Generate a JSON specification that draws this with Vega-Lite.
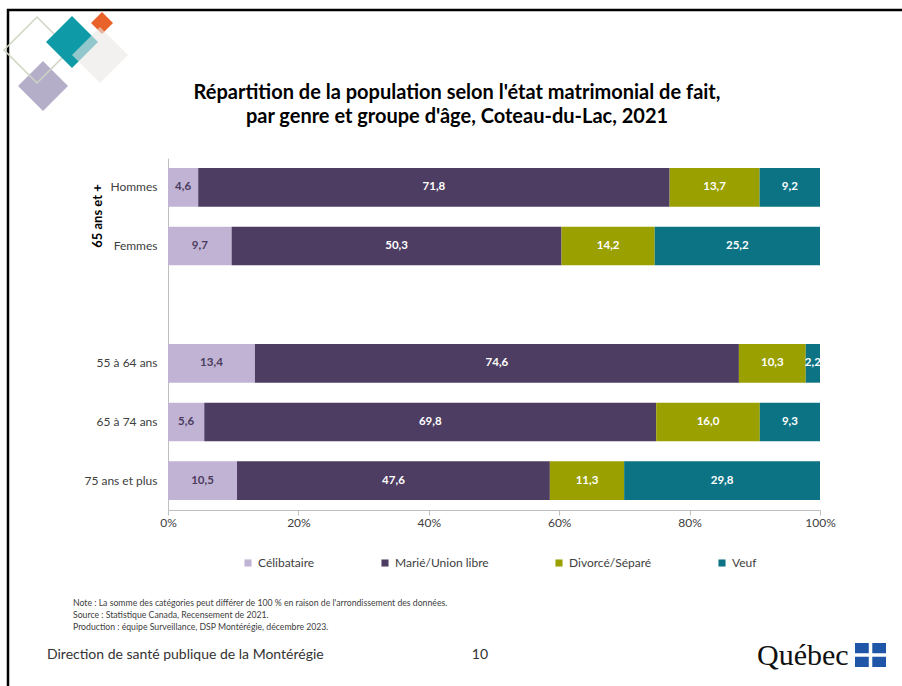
{
  "$schema": "https://vega.github.io/schema/vega-lite/v6.json",
  "width": 652,
  "height": 352,
  "autosize": {"type": "none"},
  "padding": {"left": 168, "top": 158, "right": 82, "bottom": 176},
  "background": "white",
  "config": {
    "view": {"stroke": null},
    "font": "Lato",
    "locale": {"number": {"decimal": ",", "thousands": "\u00a0", "grouping": [3], "currency": ["", "\u00a0$"], "percent": "%"}}
  },
  "resolve": {"scale": {"x": "independent", "y": "independent"}},
  "layer": [
    {
      "data": {
        "values": [
          {"g": "Hommes", "c": "Célibataire", "v": 4.6},
          {"g": "Hommes", "c": "Marié/Union libre", "v": 71.8},
          {"g": "Hommes", "c": "Divorcé/Séparé", "v": 13.7},
          {"g": "Hommes", "c": "Veuf", "v": 9.2},
          {"g": "Femmes", "c": "Célibataire", "v": 9.7},
          {"g": "Femmes", "c": "Marié/Union libre", "v": 50.3},
          {"g": "Femmes", "c": "Divorcé/Séparé", "v": 14.2},
          {"g": "Femmes", "c": "Veuf", "v": 25.2},
          {"g": "55 à 64 ans", "c": "Célibataire", "v": 13.4},
          {"g": "55 à 64 ans", "c": "Marié/Union libre", "v": 74.6},
          {"g": "55 à 64 ans", "c": "Divorcé/Séparé", "v": 10.3},
          {"g": "55 à 64 ans", "c": "Veuf", "v": 2.2},
          {"g": "65 à 74 ans", "c": "Célibataire", "v": 5.6},
          {"g": "65 à 74 ans", "c": "Marié/Union libre", "v": 69.8},
          {"g": "65 à 74 ans", "c": "Divorcé/Séparé", "v": 16.0},
          {"g": "65 à 74 ans", "c": "Veuf", "v": 9.3},
          {"g": "75 ans et plus", "c": "Célibataire", "v": 10.5},
          {"g": "75 ans et plus", "c": "Marié/Union libre", "v": 47.6},
          {"g": "75 ans et plus", "c": "Divorcé/Séparé", "v": 11.3},
          {"g": "75 ans et plus", "c": "Veuf", "v": 29.8}
        ]
      },
      "resolve": {"scale": {"color": "independent"}},
      "layer": [
        {
          "mark": {"type": "bar"},
          "encoding": {
            "x": {
              "field": "v", "type": "quantitative", "stack": "normalize",
              "scale": {"domain": [0, 1], "nice": false, "zero": false},
              "axis": {"format": "%", "values": [0, 0.2, 0.4, 0.6, 0.8, 1], "labelFlush": false, "domain": true, "domainColor": "#bfbfbf", "grid": false, "ticks": true, "tickColor": "#bfbfbf", "tickSize": 5, "labelFontSize": 12, "labelColor": "#404040", "labelFont": "Lato", "labelPadding": 2, "title": null}
            },
            "y": {
              "field": "g", "type": "nominal",
              "scale": {"domain": ["Hommes", "Femmes", " ", "55 à 64 ans", "65 à 74 ans", "75 ans et plus"], "paddingInner": 0.34, "paddingOuter": 0.17},
              "axis": {"title": null, "ticks": false, "domain": true, "domainColor": "#bfbfbf", "labelPadding": 11, "labelFontSize": 12, "labelColor": "#404040", "labelFont": "Lato"}
            },
            "order": {"field": "g"},
            "color": {
              "field": "c", "type": "nominal",
              "sort": ["Célibataire", "Marié/Union libre", "Divorcé/Séparé", "Veuf"],
              "scale": {"domain": ["Célibataire", "Marié/Union libre", "Divorcé/Séparé", "Veuf"], "range": ["#c0b3d4", "#4e3d62", "#99a000", "#0c7385"]},
              "legend": {"orient": "none", "legendX": 74, "legendY": 399, "direction": "horizontal", "title": null, "symbolType": "square", "symbolSize": 50, "symbolStrokeWidth": 0, "labelFontSize": 12, "labelFont": "Lato", "labelColor": "#404040", "columnPadding": 64, "labelOffset": 4}
            }
          }
        },
        {
          "mark": {"type": "text", "fontWeight": "bold", "fontSize": 11.5, "font": "Lato"},
          "encoding": {
            "x": {"field": "v", "type": "quantitative", "stack": "normalize", "bandPosition": 0.5},
            "y": {"field": "g", "type": "nominal"},
            "order": {"field": "g"},
            "text": {"field": "v", "type": "quantitative", "format": ".1f"},
            "color": {
              "field": "c", "type": "nominal",
              "sort": ["Célibataire", "Marié/Union libre", "Divorcé/Séparé", "Veuf"],
              "scale": {"domain": ["Célibataire", "Marié/Union libre", "Divorcé/Séparé", "Veuf"], "range": ["#4b3c5e", "#ffffff", "#ffffff", "#ffffff"]},
              "legend": null
            }
          }
        }
      ]
    },
    {
      "layer": [
        {
          "data": {"values": [{"t": "frame"}]},
          "mark": {"type": "rect", "filled": false, "stroke": "#000000", "strokeWidth": 2.5},
          "encoding": {
            "x": {"datum": -0.2454, "type": "quantitative", "scale": {"domain": [0, 1], "nice": false, "zero": false}, "axis": null},
            "x2": {"datum": 1.3},
            "y": {"datum": -0.4205, "type": "quantitative", "scale": {"domain": [0, 1], "reverse": true, "nice": false, "zero": false}, "axis": null},
            "y2": {"datum": 2.2}
          }
        },
        {
          "data": {"values": [{"t": "purple"}]},
          "mark": {"type": "point", "shape": "diamond", "filled": true, "color": "#b5aec9", "opacity": 1, "size": 2500},
          "encoding": {
            "x": {"datum": -0.1917, "type": "quantitative", "axis": null},
            "y": {"datum": -0.2045, "type": "quantitative", "axis": null}
          }
        },
        {
          "data": {"values": [{"t": "outline"}]},
          "mark": {"type": "point", "shape": "diamond", "filled": false, "stroke": "#cdd5c5", "strokeWidth": 1.5, "opacity": 1, "size": 4356},
          "encoding": {
            "x": {"datum": -0.2009, "type": "quantitative", "axis": null},
            "y": {"datum": -0.3068, "type": "quantitative", "axis": null}
          }
        },
        {
          "data": {"values": [{"t": "teal"}]},
          "mark": {"type": "point", "shape": "diamond", "filled": true, "color": "#0e9aa7", "opacity": 1, "size": 2704},
          "encoding": {
            "x": {"datum": -0.1472, "type": "quantitative", "axis": null},
            "y": {"datum": -0.3295, "type": "quantitative", "axis": null}
          }
        },
        {
          "data": {"values": [{"t": "orange"}]},
          "mark": {"type": "point", "shape": "diamond", "filled": true, "color": "#e8622a", "opacity": 1, "size": 484},
          "encoding": {
            "x": {"datum": -0.1012, "type": "quantitative", "axis": null},
            "y": {"datum": -0.3835, "type": "quantitative", "axis": null}
          }
        },
        {
          "data": {"values": [{"t": "grey"}]},
          "mark": {"type": "point", "shape": "diamond", "filled": true, "color": "#ebe7e4", "opacity": 0.6, "size": 3136},
          "encoding": {
            "x": {"datum": -0.1043, "type": "quantitative", "axis": null},
            "y": {"datum": -0.2926, "type": "quantitative", "axis": null}
          }
        },
        {
          "data": {"values": [{"t": "Répartition de la population selon l'état matrimonial de fait,"}]},
          "mark": {"type": "text", "font": "Lato", "fontWeight": "bold", "fontSize": 20, "color": "#000000", "align": "center", "baseline": "middle"},
          "encoding": {
            "x": {"datum": 0.4433, "type": "quantitative", "axis": null},
            "y": {"datum": -0.1847, "type": "quantitative", "axis": null},
            "text": {"field": "t"}
          }
        },
        {
          "data": {"values": [{"t": "par genre et groupe d'âge, Coteau-du-Lac, 2021"}]},
          "mark": {"type": "text", "font": "Lato", "fontWeight": "bold", "fontSize": 20, "color": "#000000", "align": "center", "baseline": "middle"},
          "encoding": {
            "x": {"datum": 0.4433, "type": "quantitative", "axis": null},
            "y": {"datum": -0.1165, "type": "quantitative", "axis": null},
            "text": {"field": "t"}
          }
        },
        {
          "data": {"values": [{"t": "65 ans et +"}]},
          "mark": {"type": "text", "font": "Lato", "fontWeight": "bold", "fontSize": 13, "color": "#000000", "align": "center", "baseline": "middle", "angle": 270},
          "encoding": {
            "x": {"datum": -0.1074, "type": "quantitative", "axis": null},
            "y": {"datum": 0.1648, "type": "quantitative", "axis": null},
            "text": {"field": "t"}
          }
        },
        {
          "data": {"values": [{"t": "Note : La somme des catégories peut différer de 100 % en raison de l'arrondissement des données.\nSource : Statistique Canada, Recensement de 2021.\nProduction : équipe Surveillance, DSP Montérégie, décembre 2023."}]},
          "mark": {"type": "text", "font": "Lato", "fontSize": 8.7, "color": "#404040", "align": "left", "baseline": "top", "lineBreak": "\n", "lineHeight": 12},
          "encoding": {
            "x": {"datum": -0.1457, "type": "quantitative", "axis": null},
            "y": {"datum": 1.2528, "type": "quantitative", "axis": null},
            "text": {"field": "t"}
          }
        },
        {
          "data": {"values": [{"t": "Direction de santé publique de la Montérégie"}]},
          "mark": {"type": "text", "font": "Lato", "fontSize": 14, "color": "#333333", "align": "left", "baseline": "middle"},
          "encoding": {
            "x": {"datum": -0.1856, "type": "quantitative", "axis": null},
            "y": {"datum": 1.4119, "type": "quantitative", "axis": null},
            "text": {"field": "t"}
          }
        },
        {
          "data": {"values": [{"t": "10"}]},
          "mark": {"type": "text", "font": "Lato", "fontSize": 14, "color": "#333333", "align": "center", "baseline": "middle"},
          "encoding": {
            "x": {"datum": 0.4785, "type": "quantitative", "axis": null},
            "y": {"datum": 1.4119, "type": "quantitative", "axis": null},
            "text": {"field": "t"}
          }
        },
        {
          "data": {"values": [{"t": "Québec"}]},
          "mark": {"type": "text", "font": "Liberation Serif", "fontSize": 30, "color": "#111111", "align": "left", "baseline": "alphabetic"},
          "encoding": {
            "x": {"datum": 0.9034, "type": "quantitative", "axis": null},
            "y": {"datum": 1.4403, "type": "quantitative", "axis": null},
            "text": {"field": "t"}
          }
        },
        {
          "data": {"values": [{"t": "flag"}]},
          "mark": {"type": "rect", "color": "#1f56a8"},
          "encoding": {
            "x": {"datum": 1.0537, "type": "quantitative", "axis": null},
            "x2": {"datum": 1.1012},
            "y": {"datum": 1.3778, "type": "quantitative", "axis": null},
            "y2": {"datum": 1.446}
          }
        },
        {
          "data": {"values": [{"t": "flag cross v"}]},
          "mark": {"type": "rule", "color": "#ffffff", "strokeWidth": 3.5},
          "encoding": {
            "x": {"datum": 1.0775, "type": "quantitative", "axis": null},
            "y": {"datum": 1.3778, "type": "quantitative", "axis": null},
            "y2": {"datum": 1.446}
          }
        },
        {
          "data": {"values": [{"t": "flag cross h"}]},
          "mark": {"type": "rule", "color": "#ffffff", "strokeWidth": 3.5},
          "encoding": {
            "x": {"datum": 1.0537, "type": "quantitative", "axis": null},
            "x2": {"datum": 1.1012},
            "y": {"datum": 1.4119, "type": "quantitative", "axis": null}
          }
        }
      ]
    }
  ]
}
